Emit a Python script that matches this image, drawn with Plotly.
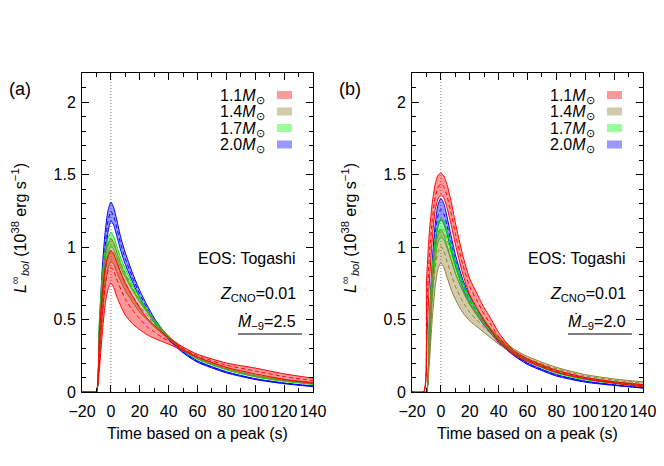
import plotly.graph_objects as go

# time grid (s) shared by every curve
T = [-20, -12, -10, -8, -6, -4, -2, 0, 2, 4, 7, 10, 15, 20, 25, 30, 35, 40, 50, 60, 80, 100, 120, 140]

MASS_LABELS = ["1.1", "1.4", "1.7", "2.0"]

# panel (a): Mdot_-9 = 2.5  (upper / centre / lower edge of each band)
a11_hi = [0, 0, 0, 0.40, 0.68, 0.85, 0.94, 0.975, 0.95, 0.90, 0.82, 0.75, 0.66, 0.58, 0.51, 0.46, 0.415, 0.375, 0.31, 0.26, 0.20, 0.165, 0.125, 0.095]
a11_mid = [0, 0, 0, 0.27, 0.54, 0.73, 0.83, 0.86, 0.835, 0.78, 0.705, 0.64, 0.565, 0.505, 0.45, 0.415, 0.38, 0.352, 0.298, 0.25, 0.185, 0.145, 0.106, 0.078]
a11_lo = [0, 0, 0, 0.15, 0.40, 0.60, 0.71, 0.75, 0.72, 0.66, 0.59, 0.53, 0.47, 0.43, 0.395, 0.37, 0.35, 0.33, 0.285, 0.24, 0.17, 0.125, 0.087, 0.06]

a14_hi = [0, 0, 0, 0.45, 0.75, 0.93, 1.02, 1.06, 1.03, 0.97, 0.88, 0.81, 0.71, 0.63, 0.56, 0.49, 0.435, 0.385, 0.30, 0.24, 0.168, 0.118, 0.087, 0.066]
a14_mid = [0, 0, 0, 0.35, 0.62, 0.82, 0.93, 0.98, 0.955, 0.90, 0.82, 0.755, 0.665, 0.59, 0.53, 0.47, 0.42, 0.375, 0.295, 0.235, 0.163, 0.113, 0.082, 0.062]
a14_lo = [0, 0, 0, 0.25, 0.50, 0.72, 0.85, 0.90, 0.88, 0.83, 0.76, 0.70, 0.62, 0.55, 0.50, 0.45, 0.405, 0.365, 0.29, 0.23, 0.158, 0.108, 0.078, 0.058]

a17_hi = [0, 0, 0, 0.50, 0.80, 0.97, 1.06, 1.10, 1.07, 1.01, 0.92, 0.85, 0.74, 0.65, 0.57, 0.50, 0.44, 0.385, 0.295, 0.235, 0.16, 0.112, 0.08, 0.058]
a17_mid = [0, 0, 0, 0.40, 0.70, 0.90, 1.005, 1.055, 1.025, 0.97, 0.885, 0.82, 0.72, 0.635, 0.56, 0.49, 0.432, 0.38, 0.29, 0.23, 0.156, 0.108, 0.076, 0.055]
a17_lo = [0, 0, 0, 0.30, 0.60, 0.83, 0.95, 1.01, 0.98, 0.93, 0.85, 0.79, 0.70, 0.62, 0.55, 0.48, 0.425, 0.375, 0.285, 0.225, 0.152, 0.104, 0.073, 0.052]

a20_hi = [0, 0, 0, 0.45, 0.85, 1.10, 1.25, 1.31, 1.27, 1.19, 1.06, 0.96, 0.82, 0.70, 0.60, 0.51, 0.44, 0.375, 0.28, 0.215, 0.14, 0.092, 0.062, 0.042]
a20_mid = [0, 0, 0, 0.35, 0.72, 1.00, 1.18, 1.245, 1.21, 1.135, 1.015, 0.92, 0.79, 0.675, 0.58, 0.495, 0.43, 0.367, 0.275, 0.21, 0.136, 0.089, 0.06, 0.04]
a20_lo = [0, 0, 0, 0.25, 0.60, 0.90, 1.10, 1.18, 1.15, 1.08, 0.97, 0.88, 0.76, 0.65, 0.56, 0.48, 0.42, 0.36, 0.27, 0.205, 0.132, 0.086, 0.057, 0.037]

# panel (b): Mdot_-9 = 2.0
b11_hi = [0, 0, 0.75, 1.10, 1.30, 1.43, 1.495, 1.51, 1.49, 1.44, 1.32, 1.17, 0.95, 0.78, 0.68, 0.58, 0.50, 0.41, 0.29, 0.23, 0.15, 0.10, 0.07, 0.05]
b11_mid = [0, 0, 0.52, 0.93, 1.18, 1.34, 1.41, 1.435, 1.415, 1.36, 1.24, 1.095, 0.885, 0.725, 0.63, 0.535, 0.46, 0.38, 0.275, 0.22, 0.142, 0.095, 0.065, 0.043]
b11_lo = [0, 0, 0.30, 0.75, 1.05, 1.25, 1.33, 1.36, 1.34, 1.28, 1.16, 1.02, 0.82, 0.67, 0.58, 0.49, 0.42, 0.35, 0.26, 0.21, 0.135, 0.09, 0.06, 0.036]

b14_hi = [0, 0, 0, 0.45, 0.80, 0.98, 1.08, 1.12, 1.09, 1.02, 0.92, 0.82, 0.70, 0.61, 0.54, 0.48, 0.43, 0.38, 0.30, 0.245, 0.17, 0.12, 0.09, 0.07]
b14_mid = [0, 0, 0, 0.32, 0.65, 0.85, 0.965, 1.005, 0.975, 0.91, 0.815, 0.73, 0.625, 0.55, 0.495, 0.445, 0.40, 0.355, 0.285, 0.232, 0.16, 0.11, 0.081, 0.061]
b14_lo = [0, 0, 0, 0.20, 0.50, 0.72, 0.85, 0.89, 0.86, 0.80, 0.71, 0.64, 0.55, 0.49, 0.45, 0.41, 0.37, 0.33, 0.27, 0.22, 0.15, 0.10, 0.072, 0.052]

b17_hi = [0, 0, 0, 0.50, 0.85, 1.05, 1.16, 1.20, 1.18, 1.12, 1.01, 0.90, 0.76, 0.65, 0.57, 0.50, 0.43, 0.37, 0.285, 0.22, 0.14, 0.09, 0.065, 0.045]
b17_mid = [0, 0, 0, 0.40, 0.75, 0.975, 1.095, 1.135, 1.115, 1.06, 0.96, 0.86, 0.73, 0.625, 0.55, 0.485, 0.42, 0.362, 0.278, 0.215, 0.135, 0.088, 0.062, 0.042]
b17_lo = [0, 0, 0, 0.30, 0.65, 0.90, 1.03, 1.07, 1.05, 1.00, 0.91, 0.82, 0.70, 0.60, 0.53, 0.47, 0.41, 0.355, 0.27, 0.21, 0.13, 0.085, 0.06, 0.04]

b20_hi = [0, 0, 0, 0.50, 0.90, 1.15, 1.29, 1.335, 1.30, 1.22, 1.08, 0.95, 0.78, 0.66, 0.57, 0.49, 0.42, 0.36, 0.27, 0.20, 0.12, 0.075, 0.05, 0.03]
b20_mid = [0, 0, 0, 0.40, 0.80, 1.075, 1.215, 1.26, 1.23, 1.16, 1.03, 0.91, 0.75, 0.635, 0.55, 0.475, 0.41, 0.35, 0.262, 0.195, 0.115, 0.072, 0.048, 0.028]
b20_lo = [0, 0, 0, 0.30, 0.70, 1.00, 1.14, 1.19, 1.16, 1.10, 0.98, 0.87, 0.72, 0.61, 0.53, 0.46, 0.40, 0.34, 0.255, 0.19, 0.11, 0.068, 0.045, 0.027]

PANEL_A = {"1.1": (a11_hi, a11_mid, a11_lo), "1.4": (a14_hi, a14_mid, a14_lo),
           "1.7": (a17_hi, a17_mid, a17_lo), "2.0": (a20_hi, a20_mid, a20_lo)}
PANEL_B = {"1.1": (b11_hi, b11_mid, b11_lo), "1.4": (b14_hi, b14_mid, b14_lo),
           "1.7": (b17_hi, b17_mid, b17_lo), "2.0": (b20_hi, b20_mid, b20_lo)}

LINE = {"1.1": "#ff0000", "1.4": "#8c8036", "1.7": "#00e600", "2.0": "#0000ff"}
FILL = {"1.1": "rgba(255,0,0,0.4)", "1.4": "rgba(140,125,40,0.4)",
        "1.7": "rgba(0,255,0,0.4)", "2.0": "rgba(0,0,255,0.4)"}

# the page puts the figure 8px in from the top-left corner, so the figure is
# 8px smaller and every reference pixel position is shifted back by 8
OFF = 8
W, H = 664 - OFF, 466 - OFF
FONT = "Liberation Sans, Arial, sans-serif"


def px(x):
    return (x - OFF) / W


def py(y):
    return 1 - (y - OFF) / H


fig = go.Figure()

panels = [
    dict(data=PANEL_A, xa="x", ya="y", left=82, tag="(a)", mdot="2.5"),
    dict(data=PANEL_B, xa="x2", ya="y2", left=412, tag="(b)", mdot="2.0"),
]

annotations = []
shapes = []

for p in panels:
    # draw heavier masses first so 1.1 sits on top
    for m in ["2.0", "1.7", "1.4", "1.1"]:
        hi, mid, lo = p["data"][m]
        common = dict(x=T, xaxis=p["xa"], yaxis=p["ya"], mode="lines", showlegend=False,
                      hoverinfo="skip")
        fig.add_trace(go.Scatter(y=hi, line=dict(color=LINE[m], width=1, shape="spline", smoothing=0.6), **common))
        fig.add_trace(go.Scatter(y=lo, fill="tonexty", fillcolor=FILL[m],
                                 line=dict(color=LINE[m], width=1, shape="spline", smoothing=0.6), **common))
        fig.add_trace(go.Scatter(y=mid, line=dict(color=LINE[m], width=1, dash="4px,3px", shape="spline", smoothing=0.6), **common))

    L = p["left"]
    # dotted line at the peak time
    shapes.append(dict(type="line", xref=p["xa"], yref=p["ya"] + " domain", x0=0, x1=0, y0=0, y1=1,
                       line=dict(color="#777777", width=1, dash="1px,2px"), layer="below"))

    # hand-made legend
    for i, m in enumerate(MASS_LABELS):
        yc = 95 + i * 16.5
        annotations.append(dict(xref="paper", yref="paper", x=px(L + 185), y=py(yc + 1),
                                xanchor="right", yanchor="middle", showarrow=False,
                                text=f"{m}<i>M</i><sub>⊙</sub>", font=dict(size=16, family=FONT, color="#000")))
        shapes.append(dict(type="rect", xref="paper", yref="paper",
                           x0=px(L + 195), x1=px(L + 210), y0=py(yc - 4), y1=py(yc + 4),
                           fillcolor=FILL[m], line=dict(width=0)))

    annotations += [
        dict(xref="paper", yref="paper", x=px(L - 62), y=py(89), text=p["tag"], showarrow=False,
             xanchor="center", yanchor="middle", font=dict(size=18, family=FONT, color="#000")),
        dict(xref="paper", yref="paper", x=px(L + 216), y=py(258), text="EOS: Togashi", showarrow=False,
             xanchor="right", yanchor="middle", font=dict(size=16, family=FONT, color="#000")),
        dict(xref="paper", yref="paper", x=px(L + 216), y=py(294), text="<i>Z</i><sub>CNO</sub>=0.01",
             showarrow=False, xanchor="right", yanchor="middle", font=dict(size=16, family=FONT, color="#000")),
        dict(xref="paper", yref="paper", x=px(L + 216), y=py(322), text="<i>Ṁ</i><sub>−9</sub>=" + p["mdot"],
             showarrow=False, xanchor="right", yanchor="middle", font=dict(size=16, family=FONT, color="#000")),
        dict(xref="paper", yref="paper", x=px(L + 115), y=py(433), text="Time based on a peak (s)",
             showarrow=False, xanchor="center", yanchor="middle", font=dict(size=16, family=FONT, color="#000")),
        dict(xref="paper", yref="paper", x=px(L - 62), y=py(228), textangle=-90,
             text="<i>L</i><sup>∞</sup><sub><i>bol</i></sub> (10<sup>38</sup> erg s<sup>−1</sup>)",
             showarrow=False, xanchor="center", yanchor="middle", font=dict(size=16, family=FONT, color="#000")),
    ]
    shapes.append(dict(type="line", xref="paper", yref="paper", x0=px(L + 156), x1=px(L + 220),
                       y0=py(334), y1=py(334), line=dict(color="#000", width=1)))

xcommon = dict(range=[-20, 140], tickmode="array", tickvals=[-20, 0, 20, 40, 60, 80, 100, 120, 140],
               ticktext=["−20", "0", "20", "40", "60", "80", "100", "120", "140"], tickangle=0,
               automargin=False, ticklabelstandoff=5,
               ticks="inside", ticklen=7, tickcolor="#000", showline=True, linecolor="#000", linewidth=1,
               mirror="ticks", showgrid=False, zeroline=False,
               minor=dict(dtick=10, tick0=0, ticks="inside", ticklen=4, tickcolor="#000", showgrid=False),
               tickfont=dict(size=16, family=FONT, color="#000"))
ycommon = dict(range=[0, 2.2], tickmode="array", tickvals=[0, 0.5, 1, 1.5, 2],
               ticktext=["0", "0.5", "1", "1.5", "2"], automargin=False, ticklabelstandoff=2,
               ticks="inside", ticklen=7, tickcolor="#000", showline=True, linecolor="#000", linewidth=1,
               mirror="ticks", showgrid=False, zeroline=False,
               minor=dict(dtick=0.1, tick0=0, ticks="inside", ticklen=4, tickcolor="#000", showgrid=False),
               tickfont=dict(size=16, family=FONT, color="#000"))

fig.update_layout(
    template="none",
    width=W, height=H,
    paper_bgcolor="white", plot_bgcolor="white",
    margin=dict(l=0, r=0, t=0, b=0),
    xaxis=dict(domain=[px(82), px(313)], anchor="y", **xcommon),
    yaxis=dict(domain=[py(392), py(73)], anchor="x", **ycommon),
    xaxis2=dict(domain=[px(412), px(643)], anchor="y2", **xcommon),
    yaxis2=dict(domain=[py(392), py(73)], anchor="x2", **ycommon),
    annotations=annotations,
    shapes=shapes,
    font=dict(family=FONT, size=16, color="#000"),
)

fig.write_html("out.html")
